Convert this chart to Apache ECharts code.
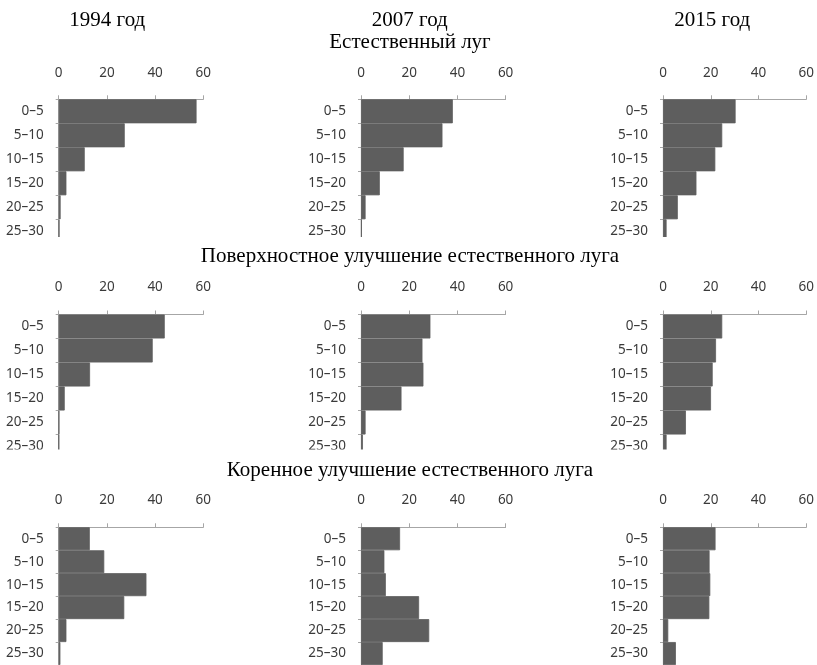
<!DOCTYPE html>
<html>
<head>
<meta charset="utf-8">
<script src="https://cdn.jsdelivr.net/npm/echarts@6/dist/echarts.min.js"></script>
<style>
  html, body { margin: 0; padding: 0; background: #ffffff; }
  #chart { width: 817px; height: 665px; }
</style>
</head>
<body>
<div id="chart"></div>
<script>
// Depth layers (cm) shown on each vertical axis
const depthClasses = ['0–5', '5–10', '10–15', '15–20', '20–25', '25–30'];
const yearTitles = ['1994 год', '2007 год', '2015 год'];
const meadowTitles = [
  'Естественный луг',
  'Поверхностное улучшение естественного луга',
  'Коренное улучшение естественного луга'
];

// Share by depth layer, %
const natural1994 = [57.2, 27.4, 10.8, 3.2, 0.8, 0.3];
const natural2007 = [38.1, 33.8, 17.7, 7.8, 1.9, 0.3];
const natural2015 = [30.4, 24.8, 21.9, 14.0, 6.2, 1.5];

const surface1994 = [44.0, 39.0, 13.0, 2.5, 0.2, 0.1];
const surface2007 = [28.8, 25.5, 25.9, 16.8, 1.9, 0.8];
const surface2015 = [24.8, 22.2, 20.8, 20.1, 9.6, 1.5];

const radical1994 = [12.9, 18.9, 36.4, 27.2, 3.2, 0.7];
const radical2007 = [16.2, 9.7, 10.3, 24.1, 28.3, 9.0];
const radical2015 = [22.0, 19.5, 19.8, 19.4, 2.2, 5.4];

const panelRows = [
  [natural1994, natural2007, natural2015],
  [surface1994, surface2007, surface2015],
  [radical1994, radical2007, radical2015]
];

// Layout of the 3x3 panel grid
const colLeft = [58.7, 361, 663];
const rowTop = [99.3, 314.5, 527.3];
const rowLabelMargin = [19, 20, 20];
const plotWidth = 144.6;
const plotHeight = 144;
const titleX = 410;
const yearTitleY = 20;
const meadowTitleY = [42.5, 256.5, 470.5];
const yearTitleX = [107.3, 409.8, 712.3];

const axisColor = '#a6a6a6';
const labelColor = '#3a3a3a';
const barColor = '#5e5e5e';
const labelFont = 'Noto Sans';
const titleFont = '21px "Liberation Serif", "Times New Roman", serif';

const grids = [], xAxes = [], yAxes = [], series = [];
panelRows.forEach((row, r) => {
  row.forEach((values, c) => {
    const idx = grids.length;
    grids.push({
      left: colLeft[c], top: rowTop[r],
      width: plotWidth, height: plotHeight,
      containLabel: false
    });
    xAxes.push({
      type: 'value', gridIndex: idx, position: 'top',
      min: 0, max: 60, interval: 20,
      axisLine: { show: true, lineStyle: { color: axisColor, width: 1 } },
      axisTick: { show: true, length: 4, lineStyle: { color: axisColor } },
      splitLine: { show: false },
      axisLabel: { color: labelColor, fontFamily: labelFont, fontSize: 13.5, margin: rowLabelMargin[r] }
    });
    yAxes.push({
      type: 'category', gridIndex: idx, inverse: true,
      data: depthClasses,
      axisLine: { show: true, lineStyle: { color: axisColor, width: 1 } },
      axisTick: { show: true, length: 3, lineStyle: { color: axisColor } },
      splitLine: { show: false },
      axisLabel: { color: labelColor, fontFamily: labelFont, fontSize: 13.5, margin: 15 }
    });
    series.push({
      type: 'bar', xAxisIndex: idx, yAxisIndex: idx,
      data: values,
      barCategoryGap: '0%',
      itemStyle: { color: barColor, borderColor: barColor, borderWidth: 0.8 },
      silent: true
    });
  });
});

function textEl(text, x, y) {
  return {
    type: 'text', x: x, y: y, z: 110,
    style: {
      text: text, font: titleFont, fill: '#000000',
      textAlign: 'center', textVerticalAlign: 'middle',
      align: 'center', verticalAlign: 'middle'
    }
  };
}

const graphics = [];
// the lower edge of the first two panel rows is trimmed
graphics.push({ type: 'rect', z: 100, shape: { x: 0, y: 237, width: 817, height: 9 }, style: { fill: '#ffffff' } });
graphics.push({ type: 'rect', z: 100, shape: { x: 0, y: 449.5, width: 817, height: 10 }, style: { fill: '#ffffff' } });
yearTitles.forEach((t, i) => graphics.push(textEl(t, yearTitleX[i], yearTitleY)));
meadowTitles.forEach((t, i) => graphics.push(textEl(t, titleX, meadowTitleY[i])));

const chart = echarts.init(document.getElementById('chart'), null, { renderer: 'canvas' });
chart.setOption({
  animation: false,
  backgroundColor: '#ffffff',
  grid: grids,
  xAxis: xAxes,
  yAxis: yAxes,
  series: series,
  graphic: graphics
});
</script>
</body>
</html>
